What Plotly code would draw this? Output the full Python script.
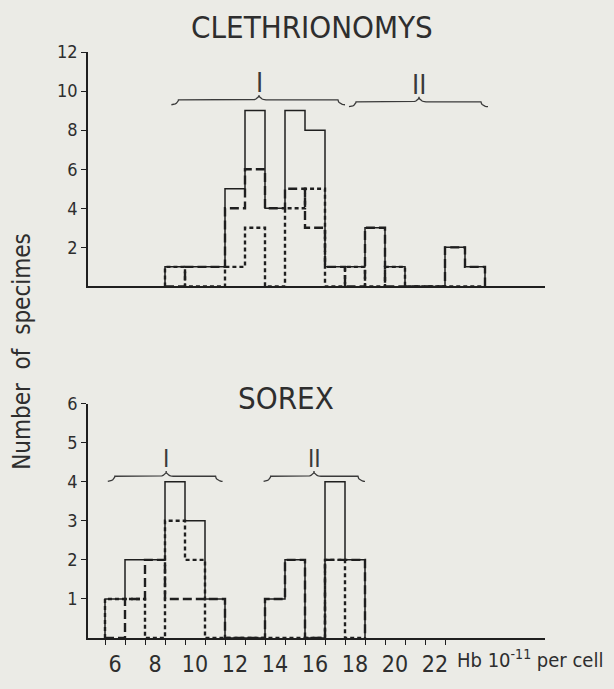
import math
import plotly.graph_objects as go

# ---------------- data ----------------
cleth_bins = [9, 10, 11, 12, 13, 14, 15, 16, 17, 18, 19, 20, 21, 22, 23, 24]
cleth_total = [1, 1, 1, 5, 9, 4, 9, 8, 1, 1, 3, 1, 0, 0, 2, 1]
cleth_a = [0, 1, 1, 4, 6, 4, 5, 3, 1, 0, 3, 0, 0, 0, 2, 1]
cleth_b = [1, 0, 0, 1, 3, 0, 4, 5, 0, 1, 0, 1, 0, 0, 0, 0]

sorex_bins = [6, 7, 8, 9, 10, 11, 12, 13, 14, 15, 16, 17, 18]
sorex_total = [1, 2, 2, 4, 3, 1, 0, 0, 1, 2, 0, 4, 2]
sorex_a = [0, 1, 2, 1, 1, 1, 0, 0, 1, 2, 0, 2, 2]
sorex_b = [1, 1, 0, 3, 2, 0, 0, 0, 0, 0, 0, 2, 0]

x_ticklabel_vals = [6, 8, 10, 12, 14, 16, 18, 20, 22]
x_minor_ticks = [v + 0.5 for v in range(5, 23)]
cleth_yticks = [2, 4, 6, 8, 10, 12]
sorex_yticks = [1, 2, 3, 4, 5, 6]

# group braces: (x start, x end, x of cusp, y, label)
cleth_groups = [(8.82, 17.5, 13.2, 9.55, "I"), (17.7, 24.65, 21.2, 9.45, "II")]
sorex_groups = [(5.64, 11.38, 8.56, 4.14, "I"), (13.43, 18.5, 15.95, 4.14, "II")]

# ---------------- style ----------------
INK = "#1f1f1f"
TXT = "#2e2e2e"
BG = "#ebebe6"
FONT = "DejaVu Sans Condensed, Liberation Sans Narrow, DejaVu Sans, sans-serif"

W, H, L, R, T, B = 614, 689, 88, 69, 52, 37


def px(xp):
    return (xp - L) / (W - L - R)


def py(yp):
    return (H - B - yp) / (H - T - B)


def step_xy(bins, counts):
    edges = [b - 0.5 for b in bins]
    xs = [edges[0]] + edges + [edges[-1] + 1]
    ys = [0] + list(counts) + [0]
    return xs, ys


def brace_xy(x0, x1, xm, y, d, w=0.35, n=8):
    xs, ys = [], []
    for i in range(n + 1):
        t = (math.pi / 2) * i / n
        xs.append(x0 + w * math.sin(t)); ys.append(y - d * math.cos(t))
    for i in range(n + 1):
        t = (math.pi / 2) * i / n
        xs.append(xm - w + w * math.sin(t)); ys.append(y + d * (1 - math.cos(t)))
    for i in range(n + 1):
        t = (math.pi / 2) * (n - i) / n
        xs.append(xm + w - w * math.sin(t)); ys.append(y + d * (1 - math.cos(t)))
    for i in range(n + 1):
        t = (math.pi / 2) * (n - i) / n
        xs.append(x1 - w * math.sin(t)); ys.append(y - d * math.cos(t))
    return xs, ys


fig = go.Figure()

panels = [
    ("x", "y", cleth_bins, cleth_total, cleth_a, cleth_b),
    ("x2", "y2", sorex_bins, sorex_total, sorex_a, sorex_b),
]
for xa, ya, bins, tot, a, b in panels:
    for counts, width, dash in [(b, 2.4, "4px,3px"), (a, 2.4, "9px,4px"), (tot, 1.5, "solid")]:
        xs, ys = step_xy(bins, counts)
        fig.add_trace(go.Scatter(x=xs, y=ys, xaxis=xa, yaxis=ya, mode="lines",
                                 line=dict(color=INK, width=width, dash=dash, shape="hv"),
                                 hoverinfo="skip", showlegend=False))

annotations = []
for xa, ya, groups, d, fs, off in [("x", "y", cleth_groups, 0.25, 27, 0.9),
                                   ("x2", "y2", sorex_groups, 0.13, 24, 0.44)]:
    for x0, x1, xm, y, label in groups:
        bx, by = brace_xy(x0, x1, xm, y, d)
        fig.add_trace(go.Scatter(x=bx, y=by, xaxis=xa, yaxis=ya, mode="lines",
                                 line=dict(color="#3a3a3a", width=1.3),
                                 hoverinfo="skip", showlegend=False))
        annotations.append(dict(x=xm, y=y + off, xref=xa, yref=ya, text=label,
                                showarrow=False,
                                font=dict(family=FONT, size=fs, color="#3a3a3a"),
                                xanchor="center", yanchor="middle"))

annotations += [
    dict(text="CLETHRIONOMYS", x=px(312), y=py(26), xref="paper", yref="paper",
         showarrow=False, xanchor="center", yanchor="middle",
         font=dict(family=FONT, size=31, color=TXT)),
    dict(text="SOREX", x=px(286), y=py(406), xref="paper", yref="paper",
         showarrow=False, xanchor="center", yanchor="middle",
         font=dict(family=FONT, size=31, color=TXT)),
    dict(text="Number  of  specimes", x=px(22), y=py(359), xref="paper", yref="paper",
         showarrow=False, xanchor="center", yanchor="middle", textangle=-90,
         font=dict(family=FONT, size=24, color=TXT)),
    dict(text="Hb 10<sup>-11</sup> per cell", x=px(455), y=py(674), xref="paper", yref="paper",
         showarrow=False, xanchor="left", yanchor="middle",
         font=dict(family=FONT, size=20, color=TXT)),
]

fig.update_layout(
    width=W, height=H,
    margin=dict(l=L, r=R, t=T, b=B),
    paper_bgcolor=BG, plot_bgcolor=BG,
    showlegend=False,
    annotations=annotations,
)

axis_common = dict(range=[4.65, 27.5], showgrid=False, zeroline=False, showline=True,
                   linecolor=INK, linewidth=1.8)
fig.update_layout(
    xaxis=dict(**axis_common, anchor="y", domain=[0, 1], showticklabels=False, ticks=""),
    yaxis=dict(range=[0, 12], domain=[0.6, 1], anchor="x", showgrid=False, zeroline=False,
               showline=True, linecolor=INK, linewidth=1.6, tickmode="array",
               tickvals=cleth_yticks, ticks="outside", ticklen=5, tickcolor=INK,
               tickfont=dict(family=FONT, size=18, color=TXT)),
    xaxis2=dict(**axis_common, anchor="y2", domain=[0, 1], tickmode="array",
                tickvals=x_ticklabel_vals, ticks="", ticklabelstandoff=4,
                tickfont=dict(family=FONT, size=23, color=TXT),
                minor=dict(tickmode="array", tickvals=x_minor_ticks, ticks="outside",
                           ticklen=5, tickcolor=INK, tickwidth=1.3)),
    yaxis2=dict(range=[0, 6], domain=[0, 0.4], anchor="x2", showgrid=False, zeroline=False,
                showline=True, linecolor=INK, linewidth=1.6, tickmode="array",
                tickvals=sorex_yticks, ticks="outside", ticklen=5, tickcolor=INK,
                tickfont=dict(family=FONT, size=18, color=TXT)),
)

fig.write_html("out.html")
